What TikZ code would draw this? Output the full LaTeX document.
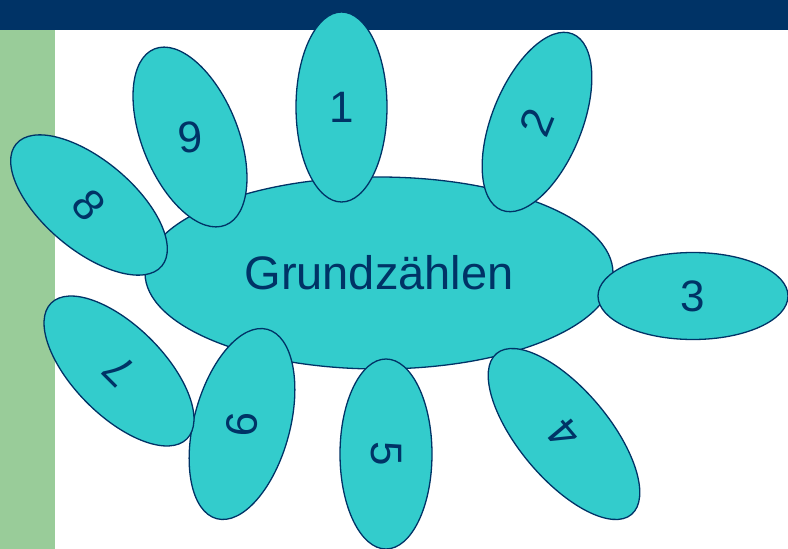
\documentclass[tikz,border=0pt]{standalone}
\usepackage{fontspec}
\setmainfont{Liberation Sans}
\usetikzlibrary{shapes.geometric}
\definecolor{navy}{HTML}{003366}
\definecolor{petalfill}{HTML}{33CCCC}
\definecolor{leaf}{HTML}{99CC99}
\begin{document}
\begin{tikzpicture}[x=1pt,y=-1pt,
  petal/.style={ellipse, draw=navy, fill=petalfill, line width=1.3pt, inner sep=0pt,
    text=navy, font=\fontsize{44}{44}\selectfont},
  bar/.style={fill=navy},
  sidebar/.style={fill=leaf}]
\useasboundingbox (0,0) rectangle (788,549);
\fill[bar] (0,0) rectangle (788,30);
\fill[sidebar] (0,30) rectangle (55,549);
\node[petal, minimum width=468pt, minimum height=192pt, font=\fontsize{47}{47}\selectfont] (main) at (379,273) {Grundzählen};
\node[petal, minimum width=91pt, minimum height=190pt] (p1) at (341.5,107) {1};
\node[petal, minimum width=190pt, minimum height=90pt, rotate=68] (p2) at (537,122) {2};
\node[petal, minimum width=190pt, minimum height=87pt] (p3) at (693,296) {3};
\node[petal, minimum width=210pt, minimum height=90pt, rotate=130] (p4) at (564,434) {4};
\node[petal, minimum width=190pt, minimum height=92pt, rotate=-90] (p5) at (386,454) {5};
\node[petal, minimum width=196pt, minimum height=96pt, rotate=75] (p6) at (242,424) {\rotatebox{12}{6}};
\node[petal, minimum width=192pt, minimum height=90pt, rotate=135] (p7) at (119,371) {7};
\node[petal, minimum width=190pt, minimum height=90pt, rotate=-40] (p8) at (89,205) {\rotatebox{-10}{8}};
\node[petal, minimum width=96pt, minimum height=190pt, rotate=22] (p9) at (190,137) {\rotatebox{-17}{9}};
\end{tikzpicture}
\end{document}
